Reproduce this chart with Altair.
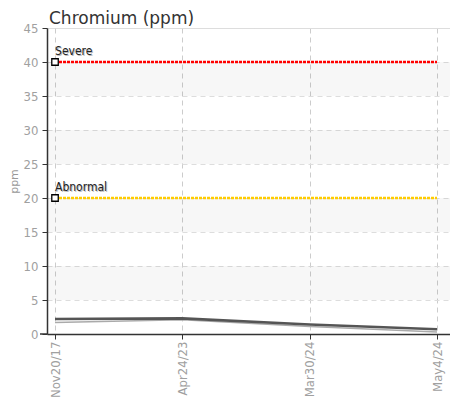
import altair as alt
import pandas as pd

# ---- data ----
title_text = "Chromium (ppm)"
dates = ["Nov20/17", "Apr24/23", "Mar30/24", "May4/24"]
idx = [0, 1, 2, 3]
upper_vals = [2.2, 2.3, 1.4, 0.7]
lower_vals = [1.7, 2.1, 1.1, 0.3]

thr_names = ["Severe", "Abnormal"]
thr_vals = [40, 20]
thr_colors = ["#ff0000", "#ffcc00"]

band_lo = [5, 15, 25, 35]
band_hi = [10, 20, 30, 40]
y_ticks = list(range(0, 50, 5))

W, H = 403, 306
NARROW = "DejaVu Sans Condensed"

series = pd.DataFrame({"i": idx, "upper": upper_vals, "lower": lower_vals})
thr = pd.DataFrame({"name": thr_names, "v": thr_vals, "color": thr_colors,
                    "x0": [idx[0]] * 2, "x1": [idx[-1]] * 2})
bands = pd.DataFrame({"lo": band_lo, "hi": band_hi})
title_df = pd.DataFrame({"t": [title_text]})

label_expr = "[" + ",".join("'%s'" % d for d in dates) + "][datum.value]"

xscale = alt.Scale(domain=[-0.063, 3.102], nice=False, zero=False)
yscale = alt.Scale(domain=[0, 45], nice=False)

xaxis = alt.Axis(values=idx, labelExpr=label_expr, labelAngle=-90, labelAlign="right",
                 labelBaseline="middle", labelFont=NARROW, labelFontSize=13,
                 labelColor="#a0a0a0", labelPadding=2, tickSize=5, tickColor="#333333",
                 domainColor="#333333", domainWidth=1.5, gridColor="#cccccc",
                 gridDash=[5, 4], grid=True, title=None)
yaxis = alt.Axis(values=y_ticks, labelFont=NARROW, labelFontSize=13,
                 labelColor="#a0a0a0", labelPadding=4, tickSize=5, tickColor="#333333",
                 domainColor="#333333", domainWidth=1.5, gridColor="#dddddd",
                 gridDash=[5, 4], grid=True, title="ppm", titleFont="DejaVu Sans",
                 titleFontSize=11, titleFontWeight="normal", titleColor="#999999",
                 titleX=-28, titleY=H / 2, titleAngle=270, titleBaseline="bottom")


def X(field):
    return alt.X(field, type="quantitative", scale=xscale, axis=xaxis)


def Y(field):
    return alt.Y(field, type="quantitative", scale=yscale, axis=yaxis)


band_layer = alt.Chart(bands).mark_rect(color="#000000", opacity=0.032).encode(
    x=alt.value(0), x2=alt.value(W), y=Y("lo"), y2="hi")

axis_ext = alt.Chart(title_df).mark_rule(color="#333333", strokeWidth=1.5).encode(
    x=alt.value(-7), x2=alt.value(0), y=alt.value(H))

lower_line = alt.Chart(series).mark_line(color="#aaaaaa", strokeWidth=1.6).encode(
    x=X("i"), y=Y("lower"))
upper_line = alt.Chart(series).mark_line(color="#555555", strokeWidth=2.6).encode(
    x=X("i"), y=Y("upper"))

thr_lines = alt.Chart(thr).mark_rule(strokeWidth=2.5, strokeDash=[3, 1]).encode(
    x=X("x0"), x2="x1", y=Y("v"), color=alt.Color("color:N", scale=None))

thr_pts = alt.Chart(thr).mark_point(shape="square", size=42, filled=True, fill="white",
                                    stroke="#000000", strokeWidth=1.3, opacity=1).encode(
    x=X("x0"), y=Y("v"))

shadow = alt.Chart(thr).mark_text(align="left", baseline="bottom", dx=1, dy=-3,
                                  font=NARROW, fontSize=12,
                                  color="#bbbbbb").encode(
    x=X("x0"), y=Y("v"), text="name:N")
labels = alt.Chart(thr).mark_text(align="left", baseline="bottom", dx=0, dy=-4,
                                  font=NARROW, fontSize=12,
                                  color="#222222").encode(
    x=X("x0"), y=Y("v"), text="name:N")

title_layer = alt.Chart(title_df).mark_text(align="left", baseline="alphabetic",
                                            font="DejaVu Sans", fontSize=17,
                                            color="#333333").encode(
    x=alt.value(2), y=alt.value(-4), text="t:N")

chart = alt.layer(band_layer, axis_ext, lower_line, upper_line, thr_lines, thr_pts,
                  shadow, labels, title_layer).properties(
    width=W, height=H,
    autosize=alt.AutoSizeParams(type="none"),
    padding={"left": 39, "top": 20, "right": 0, "bottom": 69},
).configure_view(stroke=None).configure(background="white")

chart.save("out.html", embed_options={"renderer": "svg", "actions": False})
